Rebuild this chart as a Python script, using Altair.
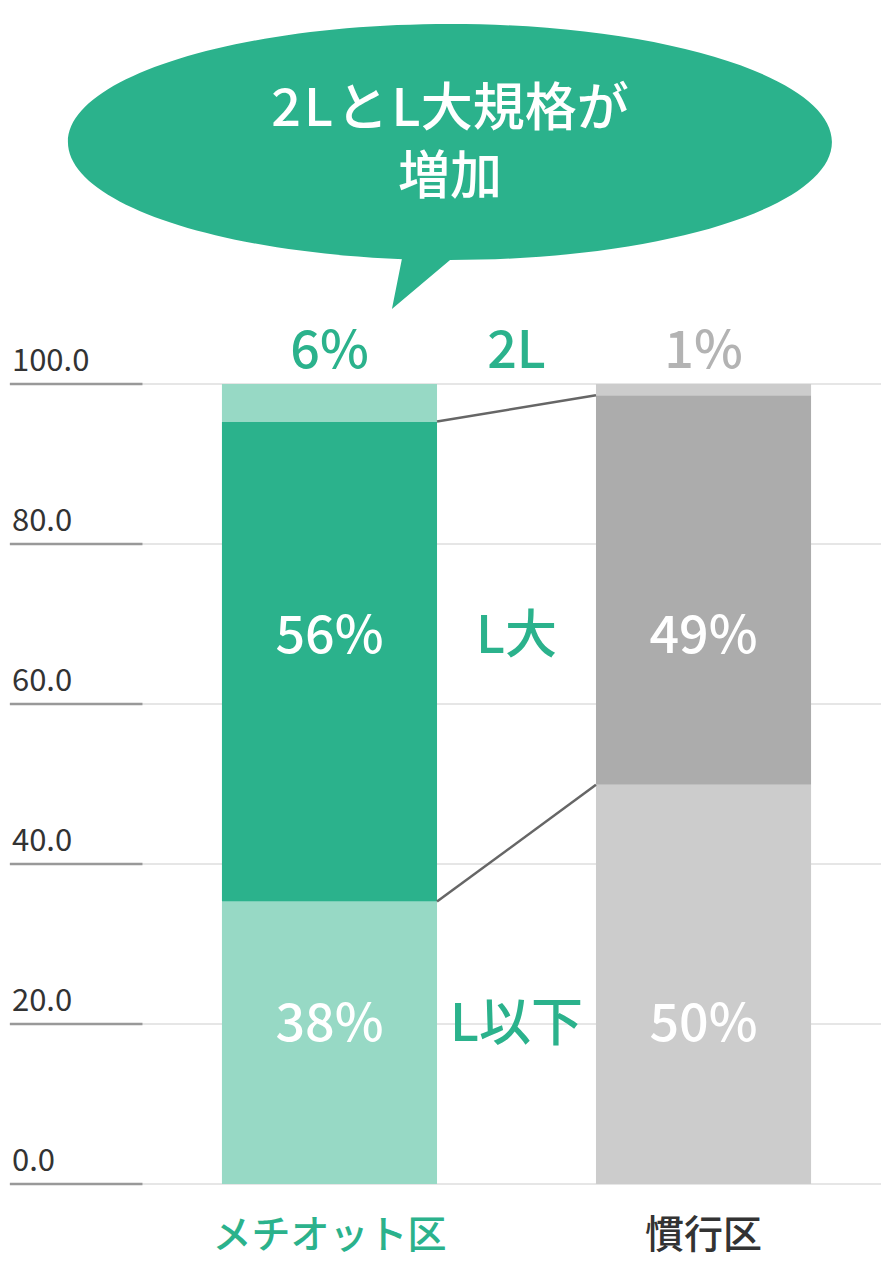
import altair as alt
import pandas as pd

# ---- data ----
groups = ["メチオット区", "慣行区"]
group_col = [0, 2]
segments = ["L以下", "L大", "2L"]
# cumulative segment boundaries (percent of total)
bar_lo = [[0.0, 35.3, 95.3], [0.0, 49.9, 98.6]]
bar_hi = [[35.3, 95.3, 100.0], [49.9, 98.6, 100.0]]
bar_colors = [["#97d9c5", "#2bb28c", "#97d9c5"], ["#cccccc", "#acacac", "#cccccc"]]

pct_labels = [["38%", "56%", "6%"], ["50%", "49%", "1%"]]
mid_labels = ["L以下", "L大", "2L"]
label_rows_y = [19.9, 68.4, 104.0]

tick_values = [0, 20, 40, 60, 80, 100]
tick_labels = ["0.0", "20.0", "40.0", "60.0", "80.0", "100.0"]

bubble_lines = ["2\u200aL\u200aと\u200aL大規格が", "増加"]

GREEN = "#2bb28c"
FONT = "'Noto Sans CJK JP Medium', 'Noto Sans CJK JP'"
HALF = 0.575

XS = alt.Scale(domain=[-1.719, 2.949], nice=False, zero=False)
YS = alt.Scale(domain=[-9.5, 147], nice=False, zero=False)

# bars table
rows = []
for gi, g in enumerate(groups):
    c = group_col[gi]
    for si, s in enumerate(segments):
        rows.append(dict(group=g, seg=s, x=c - HALF, x2=c + HALF,
                         y=bar_lo[gi][si], y2=bar_hi[gi][si], color=bar_colors[gi][si]))
bars_df = pd.DataFrame(rows)

# connector lines between bar boundaries
conn = []
for k, si in enumerate([1, 2]):
    conn.append(dict(line=k, x=group_col[0] + HALF, y=bar_lo[0][si]))
    conn.append(dict(line=k, x=group_col[1] - HALF, y=bar_lo[1][si]))
conn_df = pd.DataFrame(conn)

# grid
grid_df = pd.DataFrame(dict(y=tick_values, label=tick_labels,
                            x0=[-1.709] * 6, xt=[-1.0] * 6, x1=[2.949] * 6, xl=[-1.698] * 6))

# texts
txt = []
for ri, yv in enumerate(label_rows_y):
    for gi in range(2):
        col = GREEN if ri == 2 and gi == 0 else ("#b3b3b3" if ri == 2 else "white")
        txt.append(dict(text=pct_labels[gi][ri], x=group_col[gi], y=yv, color=col, size=52))
    txt.append(dict(text=mid_labels[ri], x=1, y=yv, color=GREEN, size=52))
txt.append(dict(text=groups[0], x=group_col[0], y=-6.5, color=GREEN, size=39))
txt.append(dict(text=groups[1], x=group_col[1], y=-6.5, color="#333333", size=39))
txt.append(dict(text=bubble_lines[0], x=0.644, y=134.2, color="white", size=52))
txt.append(dict(text=bubble_lines[1], x=0.644, y=125.7, color="white", size=52))
txt_df = pd.DataFrame(txt)

bubble_df = pd.DataFrame(dict(x=[0.644], y=[130.25]))

a = 0.309
k = 0.5523 * a
ell = (f"M -1 0 C -1 {-k} -0.5523 {-a} 0 {-a} C 0.5523 {-a} 1 {-k} 1 0 "
       f"C 1 {k} 0.5523 {a} 0 {a} C -0.5523 {a} -1 {k} -1 0 Z "
       "M 0.0228 0.29 L -0.1518 0.4372 L -0.1225 0.29 Z")

grid_light = alt.Chart(grid_df).mark_rule(color="#e6e6e6", strokeWidth=2).encode(
    x=alt.X("x0:Q", scale=XS, axis=None), x2="x1:Q",
    y=alt.Y("y:Q", scale=YS, axis=None))
grid_dark = alt.Chart(grid_df).mark_rule(color="#999999", strokeWidth=2.5).encode(
    x=alt.X("x0:Q", scale=XS, axis=None), x2="xt:Q",
    y=alt.Y("y:Q", scale=YS, axis=None))
grid_text = alt.Chart(grid_df).mark_text(align="left", baseline="alphabetic", dy=-13,
                                         font="Noto Sans CJK JP", fontSize=31, color="#333333").encode(
    x=alt.X("xl:Q", scale=XS, axis=None), y=alt.Y("y:Q", scale=YS, axis=None), text="label:N")

bars = alt.Chart(bars_df).mark_bar().encode(
    x=alt.X("x:Q", scale=XS, axis=None), x2="x2:Q",
    y=alt.Y("y:Q", scale=YS, axis=None), y2="y2:Q",
    color=alt.Color("color:N", scale=None))

lines = alt.Chart(conn_df).mark_line(color="#666666", strokeWidth=2.5).encode(
    x=alt.X("x:Q", scale=XS, axis=None), y=alt.Y("y:Q", scale=YS, axis=None),
    detail="line:N")

bubble = alt.Chart(bubble_df).mark_point(shape=ell, size=764 ** 2, filled=True,
                                         fill=GREEN, fillOpacity=1, strokeWidth=0).encode(
    x=alt.X("x:Q", scale=XS, axis=None), y=alt.Y("y:Q", scale=YS, axis=None))

texts = alt.Chart(txt_df).mark_text(font=FONT, baseline="middle", align="center").encode(
    x=alt.X("x:Q", scale=XS, axis=None), y=alt.Y("y:Q", scale=YS, axis=None),
    text="text:N", color=alt.Color("color:N", scale=None),
    size=alt.Size("size:Q", scale=None))

chart = alt.layer(grid_light, grid_dark, grid_text, bars, lines, bubble, texts).properties(
    width=873, height=1252, padding=0,
    autosize=alt.AutoSizeParams(type="none")
).configure_view(stroke=None)

chart.save("out.html", embed_options={"renderer": "svg", "actions": False})
